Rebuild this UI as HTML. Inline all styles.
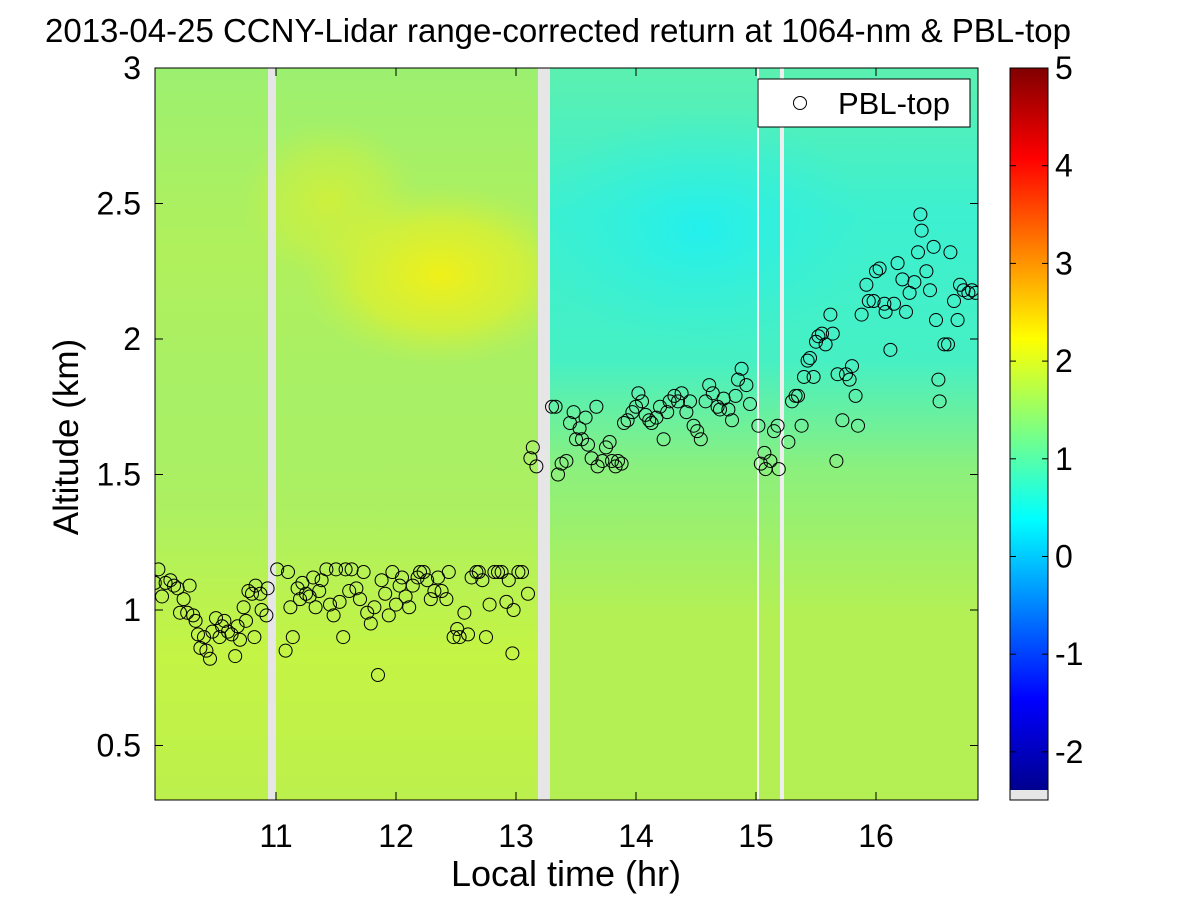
<!DOCTYPE html>
<html><head><meta charset="utf-8"><style>
html,body{margin:0;padding:0;background:#fff;}
svg text{font-family:"Liberation Sans",Arial,sans-serif;fill:#000;}
</style></head><body>
<svg id="chart" width="1200" height="900" viewBox="0 0 1200 900" xmlns="http://www.w3.org/2000/svg">
<defs>
<linearGradient id="gL" x1="0" y1="0" x2="0" y2="1">
<stop offset="0" stop-color="#9cf070"/><stop offset="0.25" stop-color="#b0f05c"/><stop offset="0.45" stop-color="#a8f066"/><stop offset="0.6" stop-color="#acf062"/><stop offset="0.8" stop-color="#c4f444"/><stop offset="1" stop-color="#bcf04c"/>
</linearGradient>
<linearGradient id="gR" x1="0" y1="0" x2="0" y2="1">
<stop offset="0" stop-color="#5cf0b0"/><stop offset="0.2" stop-color="#3cf0d0"/><stop offset="0.4" stop-color="#46f0c4"/><stop offset="0.55" stop-color="#8cf07c"/><stop offset="0.75" stop-color="#b4f054"/><stop offset="1" stop-color="#b4f054"/>
</linearGradient>
<radialGradient id="blob" cx="0.5" cy="0.5" r="0.5">
<stop offset="0" stop-color="#f0f018" stop-opacity="1"/><stop offset="0.6" stop-color="#dcf030" stop-opacity="0.7"/><stop offset="1" stop-color="#c8f048" stop-opacity="0"/>
</radialGradient>
<radialGradient id="cyan" cx="0.5" cy="0.5" r="0.5">
<stop offset="0" stop-color="#20f0f0" stop-opacity="0.9"/><stop offset="1" stop-color="#30f0e0" stop-opacity="0"/>
</radialGradient>
<linearGradient id="jet" x1="0" y1="1" x2="0" y2="0">
<stop offset="0" stop-color="#00008f"/><stop offset="0.125" stop-color="#0000ff"/><stop offset="0.375" stop-color="#00ffff"/><stop offset="0.625" stop-color="#ffff00"/><stop offset="0.875" stop-color="#ff0000"/><stop offset="1" stop-color="#800000"/>
</linearGradient>
<clipPath id="plotClip"><rect x="155" y="68" width="823" height="732"/></clipPath>
</defs>
<text x="558" y="42" font-size="33" text-anchor="middle">2013-04-25 CCNY-Lidar range-corrected return at 1064-nm &amp; PBL-top</text>
<g id="heat" clip-path="url(#plotClip)">
<rect x="155" y="68" width="385" height="732" fill="url(#gL)"/>
<ellipse cx="440" cy="275" rx="140" ry="90" fill="url(#blob)"/>
<ellipse cx="330" cy="200" rx="90" ry="80" fill="url(#blob)" opacity="0.5"/>
<rect x="540" y="68" width="438" height="732" fill="url(#gR)"/>
<ellipse cx="700" cy="230" rx="170" ry="120" fill="url(#cyan)"/>
<rect x="268" y="68" width="8" height="732" fill="#e6e6e6"/>
<rect x="538" y="68" width="12" height="732" fill="#e6e6e6"/>
<rect x="757" y="68" width="2" height="732" fill="#f4f4f4"/>
<rect x="780" y="68" width="4" height="732" fill="#eeeeee"/>
</g>
<g id="points" clip-path="url(#plotClip)"></g>
<rect x="155" y="68" width="823" height="732" fill="none" stroke="#000" stroke-width="1"/>
<g id="axes"></g>
<text x="566" y="886" font-size="36" text-anchor="middle">Local time (hr)</text>
<text transform="translate(78,437) rotate(-90)" font-size="35" text-anchor="middle">Altitude (km)</text>
<g>
<rect x="758" y="79" width="212" height="48" fill="#fff" stroke="#000"/>
<circle cx="800" cy="103" r="6.5" fill="none" stroke="#000"/>
<text x="838" y="114" font-size="31">PBL-top</text>
</g>
<g id="cbar">
<rect x="1010" y="68" width="38" height="722" fill="url(#jet)"/>
<rect x="1010" y="790" width="38" height="10" fill="#e6e6e6"/>
<rect x="1010" y="68" width="38" height="732" fill="none" stroke="#000"/>
</g>
</svg>
<script>
const times=[9.99,10.02,10.05,10.08,10.12,10.15,10.18,10.2,10.23,10.26,10.28,10.31,10.33,10.35,10.37,10.4,10.42,10.45,10.47,10.5,10.53,10.55,10.57,10.6,10.63,10.66,10.68,10.7,10.73,10.75,10.77,10.8,10.82,10.83,10.87,10.88,10.92,10.93,
11.01,11.08,11.1,11.12,11.14,11.18,11.2,11.22,11.25,11.28,11.31,11.33,11.36,11.38,11.42,11.45,11.48,11.5,11.53,11.56,11.58,11.61,11.63,11.67,11.7,11.73,11.76,11.79,11.82,11.85,11.88,11.91,11.94,11.97,12.0,12.03,12.05,12.08,12.11,12.14,12.18,12.2,12.23,12.26,12.29,12.32,12.35,12.38,12.42,12.44,12.48,12.51,12.53,12.57,12.6,12.63,12.67,12.69,12.72,12.75,12.78,12.82,12.85,12.88,12.92,12.94,12.97,12.98,13.02,13.05,13.1,13.12,13.14,13.17,
13.3,13.33,13.35,13.38,13.42,13.45,13.48,13.5,13.53,13.55,13.58,13.6,13.63,13.67,13.68,13.72,13.75,13.78,13.8,13.83,13.85,13.88,13.9,13.93,13.97,14.0,14.02,14.05,14.08,14.11,14.13,14.17,14.2,14.23,14.26,14.28,14.32,14.35,14.38,14.42,14.45,14.48,14.51,14.54,14.58,14.61,14.64,14.68,14.7,14.73,14.77,14.8,14.83,14.85,14.88,14.92,14.95,
15.02,15.04,15.07,15.08,15.12,15.15,15.18,15.19,15.27,15.3,15.33,15.35,15.38,15.4,15.43,15.45,15.48,15.5,15.52,15.55,15.58,15.62,15.64,15.67,15.68,15.72,15.75,15.78,15.8,15.83,15.85,15.88,15.92,15.94,15.98,16.0,16.03,16.07,16.08,16.12,16.15,16.18,16.22,16.25,16.28,16.32,16.35,16.37,16.38,16.42,16.45,16.48,16.5,16.52,16.53,16.57,16.6,16.62,16.65,16.68,16.7,16.73,16.77,16.8,16.83];
const heights=[1.10,1.15,1.05,1.10,1.11,1.09,1.08,0.99,1.04,0.99,1.09,0.98,0.96,0.91,0.86,0.9,0.85,0.82,0.92,0.97,0.9,0.94,0.96,0.92,0.91,0.83,0.94,0.89,1.01,0.96,1.07,1.06,0.9,1.09,1.06,1.0,0.98,1.08,
1.15,0.85,1.14,1.01,0.9,1.08,1.04,1.1,1.06,1.05,1.12,1.01,1.07,1.11,1.15,1.02,0.98,1.15,1.03,0.9,1.15,1.07,1.15,1.08,1.04,1.14,0.99,0.95,1.01,0.76,1.11,1.06,0.98,1.14,1.02,1.09,1.12,1.05,1.01,1.09,1.12,1.14,1.14,1.11,1.04,1.07,1.12,1.07,1.04,1.14,0.9,0.93,0.9,0.99,0.91,1.12,1.14,1.14,1.11,0.9,1.02,1.14,1.14,1.14,1.03,1.11,0.84,1.0,1.14,1.14,1.06,1.56,1.6,1.53,
1.75,1.75,1.5,1.54,1.55,1.69,1.73,1.63,1.67,1.63,1.71,1.61,1.56,1.75,1.53,1.55,1.6,1.62,1.55,1.53,1.55,1.54,1.69,1.7,1.73,1.75,1.8,1.77,1.72,1.7,1.69,1.71,1.75,1.63,1.73,1.77,1.79,1.77,1.8,1.73,1.77,1.68,1.66,1.63,1.77,1.83,1.8,1.75,1.74,1.78,1.74,1.7,1.79,1.85,1.89,1.83,1.76,
1.68,1.54,1.58,1.52,1.55,1.66,1.68,1.52,1.62,1.77,1.79,1.79,1.68,1.86,1.92,1.93,1.86,1.99,2.01,2.02,1.98,2.09,2.02,1.55,1.87,1.7,1.87,1.85,1.9,1.79,1.68,2.09,2.2,2.14,2.14,2.25,2.26,2.13,2.1,1.96,2.13,2.28,2.22,2.1,2.17,2.21,2.32,2.46,2.4,2.25,2.18,2.34,2.07,1.85,1.77,1.98,1.98,2.32,2.14,2.07,2.2,2.18,2.17,2.18,2.17];
const xTicks=[11,12,13,14,15,16];
const yTicks=[0.5,1,1.5,2,2.5,3];
const yTickLabels=["0.5","1","1.5","2","2.5","3"];
const cTicks=[-2,-1,0,1,2,3,4,5];

const NS='http://www.w3.org/2000/svg';
function xs(t){return 276+(t-11)*120;}
function ys(a){return 610-(a-1)*271;}
function cs(v){return 68+(5-v)*97.7;}
function mk(tag,attrs,parent){const e=document.createElementNS(NS,tag);for(const k in attrs)e.setAttribute(k,attrs[k]);parent.appendChild(e);return e;}

const pg=document.getElementById('points');
for(let i=0;i<times.length;i++){
  const c=mk('circle',{cx:xs(times[i]),cy:ys(heights[i]),r:6.5,fill:'none',stroke:'#000','stroke-width':1},pg);
  
  
}
const ax=document.getElementById('axes');
xTicks.forEach(t=>{
  const x=xs(t);
  const l1=mk('line',{x1:x,y1:800,x2:x,y2:792,stroke:'#000'},ax);
  
  
  mk('line',{x1:x,y1:68,x2:x,y2:76,stroke:'#000'},ax);
  const tx=mk('text',{x:x,y:847,'font-size':32,'text-anchor':'middle'},ax);
  tx.textContent=String(t);
  
  
});
yTicks.forEach((v,i)=>{
  const y=ys(v);
  const l=mk('line',{x1:155,y1:y,x2:163,y2:y,stroke:'#000'},ax);
  
  
  mk('line',{x1:978,y1:y,x2:970,y2:y,stroke:'#000'},ax);
  const tx=mk('text',{x:141,y:y+11,'font-size':32,'text-anchor':'end'},ax);
  tx.textContent=yTickLabels[i];
  
  
});
const cb=document.getElementById('cbar');
cTicks.forEach(v=>{
  const y=cs(v);
  mk('line',{x1:1010,y1:y,x2:1016,y2:y,stroke:'#000'},cb);
  mk('line',{x1:1048,y1:y,x2:1042,y2:y,stroke:'#000'},cb);
  const tx=mk('text',{x:1055,y:y+11,'font-size':32},cb);
  tx.textContent=String(v);
  
  
});
</script>
</body></html>
